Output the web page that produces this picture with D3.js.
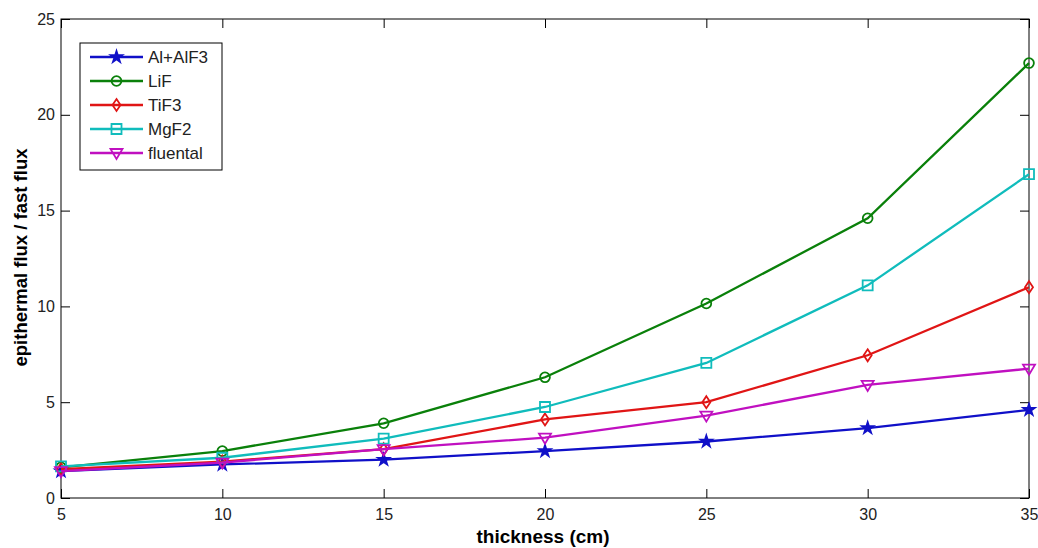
<!DOCTYPE html>
<html><head><meta charset="utf-8">
<script src="https://cdn.jsdelivr.net/npm/d3@7"></script>
<style>body{margin:0;background:#fff}svg{display:block}text{font-family:"Liberation Sans",Arial,sans-serif}</style>
</head><body>
<svg id="c" width="1038" height="548"></svg>
<script>
const thickness = [5, 10, 15, 20, 25, 30, 35];
const alAlf3   = [1.4, 1.75, 2.0, 2.45, 2.95, 3.65, 4.6];
const lif      = [1.6, 2.45, 3.9, 6.3, 10.15, 14.6, 22.7];
const tif3     = [1.5, 1.9, 2.55, 4.1, 5.0, 7.45, 11.0];
const mgf2     = [1.65, 2.1, 3.1, 4.75, 7.05, 11.1, 16.9];
const fluental = [1.4, 1.85, 2.55, 3.15, 4.3, 5.9, 6.75];
const seriesNames = ["Al+AlF3", "LiF", "TiF3", "MgF2", "fluental"];
const xTicks = [5, 10, 15, 20, 25, 30, 35];
const yTicks = [0, 5, 10, 15, 20, 25];

const series = [
  {name: seriesNames[0], values: alAlf3,   color: "#1010c8", marker: "star"},
  {name: seriesNames[1], values: lif,      color: "#0a800a", marker: "circle"},
  {name: seriesNames[2], values: tif3,     color: "#e01515", marker: "diamond"},
  {name: seriesNames[3], values: mgf2,     color: "#10bcbc", marker: "square"},
  {name: seriesNames[4], values: fluental, color: "#c010c0", marker: "triangle"}
];

const L = 61, R = 1029, T = 19, B = 498;
const svg = d3.select("#c");
const x = d3.scaleLinear().domain([5, 35]).range([L, R]);
const y = d3.scaleLinear().domain([0, 25]).range([B, T]);

svg.append("rect").attr("x", L).attr("y", T).attr("width", R - L).attr("height", B - T)
  .attr("fill", "none").attr("stroke", "#000").attr("stroke-width", 1);

const tl = 9;
const xb = svg.append("g").attr("transform", `translate(0,${B})`)
  .call(d3.axisBottom(x).tickValues(xTicks).tickSize(-tl).tickPadding(11).tickFormat(d3.format("d")));
const xt = svg.append("g").attr("transform", `translate(0,${T})`)
  .call(d3.axisTop(x).tickValues(xTicks).tickSize(-tl).tickFormat(""));
const yl = svg.append("g").attr("transform", `translate(${L},0)`)
  .call(d3.axisLeft(y).tickValues(yTicks).tickSize(-tl).tickPadding(6).tickFormat(d3.format("d")));
const yr = svg.append("g").attr("transform", `translate(${R},0)`)
  .call(d3.axisRight(y).tickValues(yTicks).tickSize(-tl).tickFormat(""));
[xb, xt, yl, yr].forEach(g => {
  g.select(".domain").remove();
  g.selectAll("line").attr("stroke", "#000");
  g.selectAll("text").attr("font-size", 16).attr("fill", "#222")
    .attr("font-family", "'Liberation Sans', Arial, sans-serif");
});

svg.append("text").attr("x", (L + R) / 2 - 2).attr("y", 543).attr("text-anchor", "middle")
  .attr("font-size", 19).attr("font-weight", "bold").text("thickness (cm)");
svg.append("text").attr("transform", `translate(27,${(T + B) / 2 - 1}) rotate(-90)`)
  .attr("text-anchor", "middle").attr("font-size", 18.5).attr("font-weight", "bold")
  .text("epithermal flux / fast flux");

const sym = {
  star: d3.symbol().type(d3.symbolStar).size(40),
  circle: d3.symbol().type(d3.symbolCircle).size(75),
  square: d3.symbol().type(d3.symbolSquare).size(100)
};
function markerPath(m) {
  if (m === "diamond") return "M0,-6L4,0L0,6L-4,0Z";
  if (m === "triangle") return "M-6,-4L6,-4L0,6Z";
  return sym[m]();
}

const line = d3.line().x((d, i) => x(thickness[i])).y(d => y(d));
series.forEach(s => {
  svg.append("path").datum(s.values).attr("d", line)
    .attr("fill", "none").attr("stroke", s.color).attr("stroke-width", 2.3);
  svg.selectAll(null).data(s.values).enter().append("path")
    .attr("transform", (d, i) => `translate(${x(thickness[i])},${y(d)})`)
    .attr("d", markerPath(s.marker))
    .attr("fill", s.marker === "star" ? s.color : "none")
    .attr("stroke", s.color).attr("stroke-width", 1.8);
});

const lg = svg.append("g");
lg.append("rect").attr("x", 80).attr("y", 43).attr("width", 142).attr("height", 127)
  .attr("fill", "#fff").attr("stroke", "#000").attr("stroke-width", 1);
series.forEach((s, i) => {
  const yy = 57 + i * 24;
  lg.append("line").attr("x1", 90).attr("x2", 143).attr("y1", yy).attr("y2", yy)
    .attr("stroke", s.color).attr("stroke-width", 2.3);
  lg.append("path").attr("transform", `translate(116.5,${yy})`).attr("d", markerPath(s.marker))
    .attr("fill", s.marker === "star" ? s.color : "none").attr("stroke", s.color).attr("stroke-width", 1.8);
  lg.append("text").attr("x", 148).attr("y", yy + 6).attr("font-size", 17).attr("fill", "#222").text(s.name);
});
</script>
</body></html>
